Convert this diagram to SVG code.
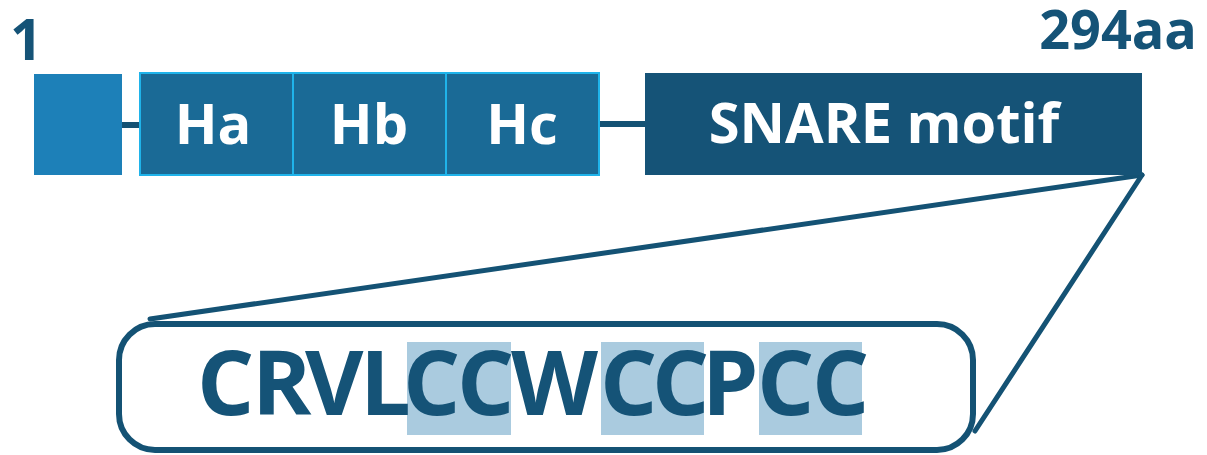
<svg xmlns="http://www.w3.org/2000/svg" width="1207" height="455" viewBox="0 0 1207 455">
  <style>
    .lbl { font-family: "Open Sans", "DejaVu Sans", sans-serif; font-weight: 700; }
    .dark { fill: #155377; }
    .white { fill: #ffffff; }
    .link { stroke: #145274; stroke-width: 6; fill: none; }
    .zoom { stroke: #145274; stroke-width: 5; fill: none; stroke-linecap: round; }
    .hl { fill: #aacbdf; }
  </style>

  <!-- residue numbering -->
  <text class="lbl dark" x="10" y="60" font-size="57">1</text>
  <text class="lbl dark" x="1197" y="49" font-size="54" text-anchor="end">294aa</text>

  <!-- connectors between domains and the zoom-out wedge -->
  <g id="connectors">
    <line class="link" x1="122" y1="125" x2="140" y2="125"/>
    <line class="link" x1="600" y1="124" x2="646" y2="124"/>
    <line class="zoom" x1="1142" y1="175" x2="150" y2="319"/>
    <line class="zoom" x1="1142" y1="175" x2="975" y2="431"/>
  </g>

  <!-- N-terminal segment -->
  <g id="nterm">
    <rect x="34" y="74" width="88" height="101" fill="#1d80b8"/>
  </g>

  <!-- Habc domain -->
  <g id="habc">
    <rect x="140" y="73" width="459" height="102" fill="#1a6a96" stroke="#1fb3ea" stroke-width="2"/>
    <line x1="293" y1="73" x2="293" y2="175" stroke="#1fb3ea" stroke-width="2"/>
    <line x1="446" y1="73" x2="446" y2="175" stroke="#1fb3ea" stroke-width="2"/>
    <text class="lbl white" x="213" y="144" font-size="56" text-anchor="middle">Ha</text>
    <text class="lbl white" x="369" y="144" font-size="56" text-anchor="middle">Hb</text>
    <text class="lbl white" x="522" y="144" font-size="56" text-anchor="middle">Hc</text>
  </g>

  <!-- SNARE motif -->
  <g id="snare">
    <rect x="645" y="73" width="497" height="102" fill="#155377"/>
    <text class="lbl white" x="884" y="143" font-size="56" text-anchor="middle">SNARE motif</text>
  </g>

  <!-- C-terminal sequence detail -->
  <g id="sequence">
    <rect x="119" y="324" width="854" height="126" rx="36" ry="36" fill="#ffffff" stroke="#145274" stroke-width="6"/>
    <rect class="hl" x="407" y="342" width="104" height="93"/>
    <rect class="hl" x="601" y="342" width="103" height="93"/>
    <rect class="hl" x="759" y="342" width="103" height="93"/>
    <text class="lbl dark" y="415" font-size="90" x="197 252 305 360 403 457 511 600 652 702 757 812">CRVLCCWCCPCC</text>
  </g>
</svg>
